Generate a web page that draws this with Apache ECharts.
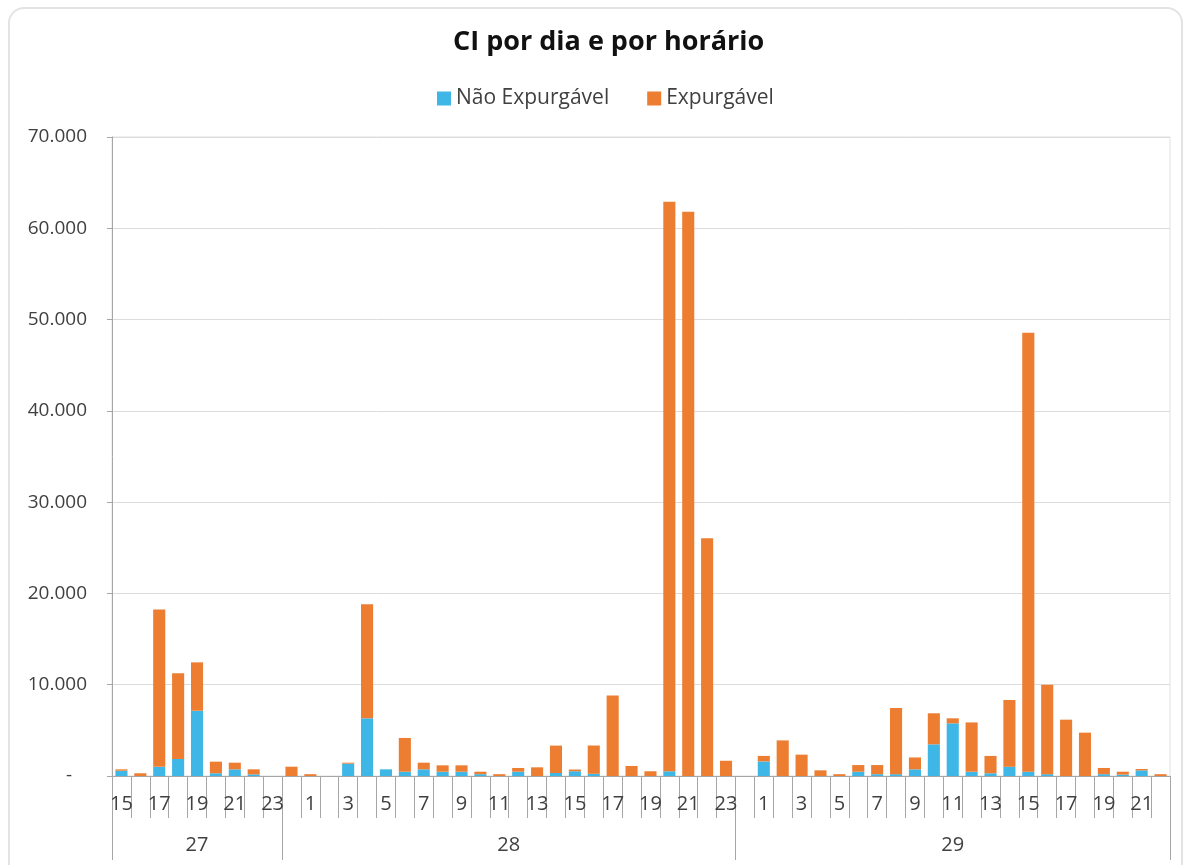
<!DOCTYPE html>
<html>
<head>
<meta charset="utf-8">
<script src="https://cdn.jsdelivr.net/npm/echarts@6/dist/echarts.min.js"></script>
<style>
  html, body { margin: 0; padding: 0; background: #fff; overflow: hidden; }
  #frame { position: absolute; left: 8px; top: 7px; width: 1175px; height: 880px; border: 2px solid #e3e3e3; border-radius: 16px; box-sizing: border-box; }
  #chart { position: absolute; left: 0; top: 0; width: 1188px; height: 865px; }
</style>
</head>
<body>
<div id="frame"></div>
<div id="chart"></div>
<script>
// ---- Data ----
const days = ['27', '28', '29'];
const hours27 = ['15','16','17','18','19','20','21','22','23'];
const hours28 = ['0','1','2','3','4','5','6','7','8','9','10','11','12','13','14','15','16','17','18','19','20','21','22','23'];
const hours29 = ['0','1','2','3','4','5','6','7','8','9','10','11','12','13','14','15','16','17','18','19','20','21','22'];

const naoExp27 = [580, 0, 1000, 1860, 7150, 300, 730, 180, 0];
const naoExp28 = [0, 0, 0, 1350, 6320, 730, 470, 730, 470, 470, 200, 0, 470, 0, 330, 520, 240, 0, 0, 0, 520, 0, 0, 0];
const naoExp29 = [0, 1600, 0, 0, 0, 0, 470, 200, 200, 730, 3470, 5770, 470, 300, 1020, 470, 200, 0, 0, 200, 150, 620, 0];

const exp27 = [150, 300, 17250, 9400, 5300, 1270, 730, 550, 0];
const exp28 = [1020, 200, 0, 110, 12500, 0, 3700, 730, 700, 700, 270, 200, 410, 950, 3000, 190, 3100, 8810, 1100, 520, 62400, 61800, 26050, 1670];
const exp29 = [0, 600, 3900, 2340, 620, 200, 730, 1000, 7250, 1300, 3400, 550, 5400, 1900, 7300, 48100, 9800, 6170, 4750, 680, 320, 150, 200];

const yTicks = [0, 10000, 20000, 30000, 40000, 50000, 60000, 70000];

// ---- Build ----
const dayHours = [hours27, hours28, hours29];
const hourCats = [].concat(hours27, hours28, hours29);
const naoExp = [].concat(naoExp27, naoExp28, naoExp29);
const exp = [].concat(exp27, exp28, exp29);
const dayCats = [];
const groupStart = [];
const dayLabelAt = {};
dayHours.forEach((hs, d) => {
  groupStart.push(dayCats.length);
  const start = dayCats.length;
  hs.forEach(() => dayCats.push(days[d]));
  const mid = start + (hs.length - 1) / 2;
  dayLabelAt[Math.floor(mid)] = { text: days[d], half: mid % 1 !== 0 };
});

function fmt(v) {
  if (v === 0) return '-   ';
  return String(v).replace(/\B(?=(\d{3})+(?!\d))/g, '.');
}

const FONT = 'Open Sans';
const TXT = '#404040';
const AX = '#a6a6a6';
const chart = echarts.init(document.getElementById('chart'));
const gridLeft = 112, gridRight = 18;
const band = (1188 - gridLeft - gridRight) / hourCats.length;

chart.setOption({
  animation: false,
  textStyle: { fontFamily: FONT },
  title: {
    text: 'CI por dia e por horário',
    left: 448, top: 24,
    textStyle: { fontFamily: FONT, fontSize: 27, fontWeight: 'bold', color: '#111' }
  },
  legend: {
    top: 83, left: 432,
    itemWidth: 14, itemHeight: 14, itemGap: 38,
    icon: 'rect',
    textStyle: { fontFamily: FONT, fontSize: 21, color: TXT },
    data: ['Não Expurgável', 'Expurgável']
  },
  grid: {
    left: gridLeft, right: gridRight, top: 137, bottom: 89,
    show: true, borderColor: '#e0e0e0', borderWidth: 1
  },
  xAxis: [
    {
      type: 'category', position: 'bottom', data: hourCats,
      axisLine: { lineStyle: { color: AX, width: 1 } },
      axisTick: { show: true, interval: 0, length: 42, lineStyle: { color: AX } },
      axisLabel: { interval: 1, margin: 18, fontFamily: FONT, fontSize: 20, color: TXT },
      splitLine: { show: false }
    },
    {
      type: 'category', position: 'bottom', data: dayCats,
      axisLine: { show: false },
      axisTick: {
        show: true, length: 84, lineStyle: { color: AX },
        interval: (idx) => groupStart.indexOf(idx) !== -1
      },
      axisLabel: {
        interval: 0, margin: 59, fontFamily: FONT, fontSize: 20, color: TXT,
        formatter: (val, idx) => {
          const l = dayLabelAt[idx];
          if (!l) return '';
          return l.half ? '{sh|' + l.text + '}' : l.text;
        },
        rich: { sh: { padding: [0, 0, 0, band], fontFamily: FONT, fontSize: 20, color: TXT } }
      },
      splitLine: { show: false }
    }
  ],
  yAxis: {
    type: 'value', min: yTicks[0], max: yTicks[yTicks.length - 1], interval: yTicks[1] - yTicks[0],
    axisLine: { show: true, lineStyle: { color: AX } },
    axisTick: { show: true, length: 5, lineStyle: { color: AX } },
    axisLabel: { margin: 25, fontFamily: FONT, fontSize: 19, color: TXT, formatter: fmt },
    splitLine: { lineStyle: { color: '#dcdcdc' } }
  },
  series: [
    {
      name: 'Não Expurgável', type: 'bar', stack: 'ci', xAxisIndex: 0,
      data: naoExp, barCategoryGap: '36%',
      itemStyle: { color: '#3fb7e6' }
    },
    {
      name: 'Expurgável', type: 'bar', stack: 'ci', xAxisIndex: 0,
      data: exp, barCategoryGap: '36%',
      itemStyle: { color: '#ed7d31' }
    }
  ]
});
</script>
</body>
</html>
